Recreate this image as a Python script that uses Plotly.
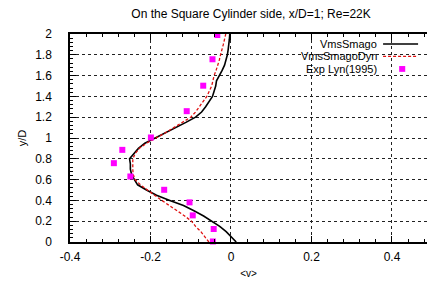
import plotly.graph_objects as go

# ---- data ----
y_sim = [0.0, 0.05, 0.1, 0.15, 0.2, 0.25, 0.3, 0.35, 0.4, 0.45, 0.5, 0.55, 0.6, 0.65,
         0.7, 0.75, 0.8, 0.85, 0.9, 0.95, 1.0, 1.05, 1.1, 1.15, 1.2, 1.25, 1.3, 1.35,
         1.4, 1.45, 1.5, 1.55, 1.6, 1.65, 1.7, 1.75, 1.8, 1.85, 1.9, 1.95, 2.0]
v_smago = [0.013, 0.0, -0.012, -0.028, -0.047, -0.068, -0.092, -0.118, -0.152, -0.185,
           -0.210, -0.232, -0.240, -0.247, -0.250, -0.250, -0.252, -0.240, -0.230, -0.214,
           -0.188, -0.160, -0.135, -0.112, -0.088, -0.073, -0.063, -0.055, -0.046, -0.042,
           -0.038, -0.036, -0.028, -0.022, -0.016, -0.012, -0.009, -0.007, -0.005, -0.004,
           -0.003]
v_smago_dyn = [-0.055, -0.065, -0.075, -0.088, -0.098, -0.115, -0.135, -0.155, -0.172,
               -0.190, -0.207, -0.225, -0.238, -0.243, -0.244, -0.244, -0.244, -0.238,
               -0.228, -0.210, -0.186, -0.163, -0.142, -0.122, -0.100, -0.088, -0.078,
               -0.068, -0.060, -0.054, -0.048, -0.045, -0.042, -0.037, -0.032, -0.029,
               -0.026, -0.022, -0.019, -0.016, -0.013]
y_exp = [1.99, 1.757, 1.503, 1.258, 1.005, 0.886, 0.758, 0.630, 0.502, 0.381, 0.256, 0.125, 0.005]
v_exp = [-0.034, -0.046, -0.069, -0.110, -0.199, -0.270, -0.291, -0.250, -0.166, -0.103,
         -0.095, -0.043, -0.045]

x_ticks = [-0.4, -0.2, 0, 0.2, 0.4]
x_ticklabels = ["-0.4", "-0.2", "0", "0.2", "0.4"]
y_ticks = [0, 0.2, 0.4, 0.6, 0.8, 1, 1.2, 1.4, 1.6, 1.8, 2]
y_ticklabels = ["0", "0.2", "0.4", "0.6", "0.8", "1", "1.2", "1.4", "1.6", "1.8", "2"]
legend_names = ["VmsSmago", "VmsSmagoDyn", "Exp Lyn(1995)"]

FONT = "Liberation Sans, Arial, sans-serif"

fig = go.Figure()
fig.add_trace(go.Scatter(x=v_smago, y=y_sim, mode="lines", name=legend_names[0],
                         line=dict(color="black", width=1.6)))
fig.add_trace(go.Scatter(x=v_smago_dyn, y=y_sim, mode="lines", name=legend_names[1],
                         line=dict(color="#e01010", width=1.3, dash="3px,2px")))
fig.add_trace(go.Scatter(x=v_exp, y=y_exp, mode="markers", name=legend_names[2],
                         marker=dict(symbol="square", size=6, color="#ff00ff"),
                         cliponaxis=False))

# legend (text right of symbol, as in the reference)
leg_y = [0.952, 0.892, 0.832]
for name, ly in zip(legend_names, leg_y):
    fig.add_annotation(x=0.862, y=ly, xref="paper", yref="paper", text=name,
                       showarrow=False, xanchor="right", yanchor="middle", borderpad=0,
                       font=dict(family=FONT, size=11, color="black"))
fig.add_shape(type="rect", xref="paper", yref="paper", x0=0.588, x1=1.0, y0=0.785, y1=0.99,
              fillcolor="white", line=dict(width=0), layer="between")
fig.add_shape(type="line", xref="paper", yref="paper", x0=0.877, x1=0.975,
              y0=leg_y[0], y1=leg_y[0], line=dict(color="black", width=1.6))
fig.add_shape(type="line", xref="paper", yref="paper", x0=0.877, x1=0.975,
              y0=leg_y[1], y1=leg_y[1], line=dict(color="#e01010", width=1.3, dash="3px,2px"))
fig.add_shape(type="rect", xref="paper", yref="paper", x0=0.922, x1=0.939,
              y0=leg_y[2] - 0.014, y1=leg_y[2] + 0.014, fillcolor="#ff00ff",
              line=dict(width=0))

fig.update_layout(
    width=427, height=282,
    margin=dict(l=70, r=0, t=34, b=40),
    paper_bgcolor="white", plot_bgcolor="white",
    showlegend=False,
    font=dict(family=FONT, size=12, color="black"),
    title=dict(text="On the Square Cylinder side, x/D=1; Re=22K", x=0.588, xref="container",
               xanchor="center", y=0.95, yanchor="middle",
               font=dict(family=FONT, size=12, color="black")),
    xaxis=dict(range=[-0.4, 0.487], tickvals=x_ticks, ticktext=x_ticklabels,
               ticks="inside", ticklen=6, tickwidth=1, tickcolor="black",
               showline=True, linecolor="black", linewidth=1.5, mirror="ticks",
               showgrid=True, gridcolor="#222", griddash="dot", gridwidth=1,
               zeroline=False, ticklabelstandoff=3,
               tickfont=dict(size=12),
               minor=dict(dtick=0.04, tick0=0, ticks="inside", ticklen=3,
                          tickcolor="black", showgrid=False),
               title=dict(text="&lt;v&gt;", font=dict(size=10), standoff=7)),
    yaxis=dict(range=[0, 2], tickvals=y_ticks, ticktext=y_ticklabels,
               ticks="inside", ticklen=6, tickwidth=1, tickcolor="black",
               showline=True, linecolor="black", linewidth=1.5, mirror=False,
               showgrid=True, gridcolor="#222", griddash="dot", gridwidth=1,
               zeroline=False, ticklabelstandoff=14,
               tickfont=dict(size=12),
               minor=dict(dtick=0.04, tick0=0, ticks="inside", ticklen=3,
                          tickcolor="black", showgrid=False),
               title=dict(text="y/D", font=dict(size=11), standoff=6)),
)

fig.write_html("out.html", config={"displayModeBar": False},
               post_script="document.body.style.margin='0px';")
